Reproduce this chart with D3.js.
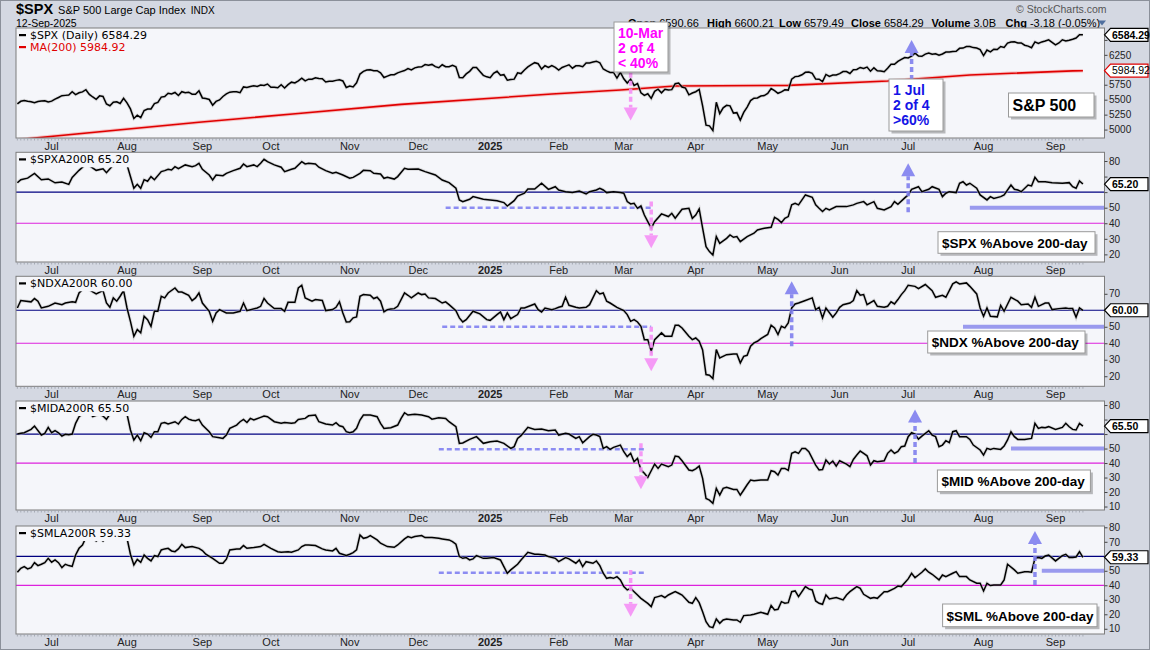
<!DOCTYPE html>
<html><head><meta charset="utf-8">
<script src="https://cdn.jsdelivr.net/npm/d3@7"></script>
<style>
html,body{margin:0;padding:0;background:#d4d8e2;}
svg{display:block;font-family:"Liberation Sans",Arial,sans-serif;}
</style></head><body>
<svg id="chart" width="1150" height="650"></svg>
<script>
// ---------------- DATA ----------------
const firstSession = "2024-06-14", lastSession = "2025-09-12";
const holidays = ["2024-06-19","2024-07-04","2024-09-02","2024-11-28","2024-12-25","2025-01-01","2025-01-09","2025-01-20","2025-02-17","2025-04-18","2025-05-26","2025-06-19","2025-07-04","2025-09-01"];
const monthNames = ["Jan","Feb","Mar","Apr","May","Jun","Jul","Aug","Sep","Oct","Nov","Dec"];

// $SPX daily closes, 14-Jun-2024 .. 31-Dec-2024
const spx2024 = [5431,5473,5487,5473,5465,5448,5469,5478,5483,5460,
5475,5509,5537,5567,5572,5577,5633,5585,5615,5631,5667,5589,5545,5505,5564,5555,5427,5399,5459,5464,5436,5522,
5446,5346,5186,5240,5199,5319,5344,5344,5434,5455,5543,5554,5608,5597,5621,5570,5634,5616,5625,5592,5592,5648,
5529,5520,5503,5408,5471,5496,5554,5596,5626,5633,5634,5618,5713,5703,5719,5732,5722,5745,5738,5762,
5709,5709,5700,5751,5696,5751,5793,5780,5815,5859,5815,5843,5841,5865,5853,5851,5797,5809,5808,5823,5833,5813,5705,
5729,5712,5782,5929,5973,5996,6001,5984,5985,5949,5871,5894,5917,5917,5949,5969,5987,6021,5999,6032,
6047,6050,6087,6075,6090,6053,6034,6084,6051,6051,6074,6051,5872,5867,5931,5974,6040,6037,5971,5907,5882];
// $SPX daily closes, 2-Jan-2025 .. 12-Sep-2025
const spx2025 = [5869,5942,5975,5909,5918,5827,5836,5843,5950,5937,5997,6049,6086,6119,6101,6012,6068,6039,6071,6041,
5994,6038,6061,6084,6026,6066,6068,6052,6115,6115,6129,6144,6118,6013,5983,5955,5956,5861,5955,
5850,5778,5843,5739,5770,5615,5572,5599,5522,5639,5675,5615,5675,5663,5668,5768,5777,5712,5693,5581,5612,
5633,5671,5397,5074,5062,4983,5457,5268,5363,5406,5397,5276,5283,5158,5288,5376,5485,5525,5529,5561,5569,
5604,5687,5650,5607,5631,5664,5660,5844,5886,5892,5917,5958,5964,5940,5845,5842,5802,5922,5889,5912,5912,
5936,5970,5971,5939,6000,6006,6039,6022,6045,5977,6033,5982,5981,5967,6025,6092,6092,6141,6173,6205,
6198,6227,6279,6230,6226,6263,6280,6260,6269,6244,6264,6297,6297,6306,6309,6359,6363,6389,6390,6371,6363,6339,
6238,6330,6299,6345,6340,6389,6374,6446,6466,6469,6450,6449,6411,6396,6370,6467,6439,6466,6481,6502,6460,
6416,6448,6502,6482,6495,6512,6532,6587,6584.29];

// MA(200)
const spxMA200 = [["2024-06-14",4828],["2024-06-24",4859],["2024-08-30",5123],["2024-10-11",5269],["2024-11-22",5421],
["2025-01-30",5594],["2025-02-28",5661],["2025-03-24",5728],["2025-05-09",5740],["2025-06-23",5813],["2025-07-11",5868],
["2025-07-28",5914],["2025-09-09",5981],["2025-09-12",5984.92]];

const spxa200r = [["2024-06-14",66],["2024-06-17",68],["2024-06-20",69],["2024-06-24",72],["2024-06-26",68],["2024-06-28",68.5],
["2024-07-02",66],["2024-07-05",66.5],["2024-07-09",65],["2024-07-10",69.5],["2024-07-12",74],["2024-07-16",78],["2024-07-17",77],
["2024-07-19",74],["2024-07-23",75],["2024-07-24",72.5],["2024-07-26",77.5],["2024-07-31",78],["2024-08-01",77.5],["2024-08-02",70],
["2024-08-05",62.5],["2024-08-06",65],["2024-08-07",62.5],["2024-08-08",68],["2024-08-09",67],["2024-08-12",70],["2024-08-13",68],
["2024-08-15",73.2],["2024-08-16",73.8],["2024-08-19",74.7],["2024-08-20",74.2],["2024-08-21",76.4],["2024-08-22",75.1],["2024-08-26",77.5],
["2024-08-28",76.4],["2024-08-29",77],["2024-08-30",78.5],["2024-09-03",74.7],["2024-09-05",71],["2024-09-06",67.8],["2024-09-09",71],
["2024-09-11",70.6],["2024-09-12",72.1],["2024-09-16",73.8],["2024-09-18",75.3],["2024-09-19",78.1],["2024-09-20",76.4],["2024-09-24",77.5],
["2024-09-25",76.4],["2024-09-26",78.5],["2024-09-27",81.1],["2024-09-30",79.6],["2024-10-02",77.5],["2024-10-04",76],["2024-10-07",73.2],
["2024-10-09",74.7],["2024-10-10",75.3],["2024-10-14",79.6],["2024-10-15",78.1],["2024-10-16",78.5],["2024-10-18",78.1],["2024-10-21",76],
["2024-10-23",73.8],["2024-10-25",72.1],["2024-10-28",72.7],["2024-10-30",71],["2024-11-01",68.9],["2024-11-04",69.5],["2024-11-06",72.1],
["2024-11-07",74],["2024-11-11",73.8],["2024-11-12",72.1],["2024-11-14",71.7],["2024-11-15",68.9],["2024-11-18",69.5],["2024-11-20",68.4],
["2024-11-21",70],["2024-11-25",75.3],["2024-11-26",74.7],["2024-12-02",74.9],["2024-12-04",73.2],["2024-12-09",71],["2024-12-11",67.8],
["2024-12-13",66.1],["2024-12-17",62.5],["2024-12-18",55],["2024-12-19",53.9],["2024-12-23",55.4],["2024-12-24",57.1],["2024-12-30",55.4],
["2025-01-02",55],["2025-01-06",54.5],["2025-01-08",53.3],["2025-01-10",51.1],["2025-01-14",54.5],["2025-01-15",57.5],["2025-01-17",59.3],
["2025-01-21",62],["2025-01-23",62],["2025-01-27",65.7],["2025-01-29",61.8],["2025-01-31",63.5],["2025-02-03",61.4],["2025-02-05",60.3],
["2025-02-07",59.7],["2025-02-11",60.7],["2025-02-13",58.8],["2025-02-14",60.3],["2025-02-19",61.4],["2025-02-20",62.5],["2025-02-21",61.4],
["2025-02-24",59.7],["2025-02-26",60.3],["2025-02-28",59.7],["2025-03-03",59.3],["2025-03-04",53.9],["2025-03-05",52.4],["2025-03-06",52.8],
["2025-03-07",49.6],["2025-03-10",51.1],["2025-03-11",45.3],["2025-03-12",41],["2025-03-13",36.8],["2025-03-14",41],["2025-03-18",46],
["2025-03-20",44.3],["2025-03-21",46.4],["2025-03-24",43.2],["2025-03-26",49],["2025-03-28",49.6],["2025-03-31",43.2],["2025-04-01",45.3],
["2025-04-02",49.2],["2025-04-03",36.8],["2025-04-04",25],["2025-04-07",21.8],["2025-04-08",19.6],["2025-04-09",31.4],["2025-04-10",27.1],
["2025-04-14",30.3],["2025-04-15",32.5],["2025-04-16",31],["2025-04-17",31.4],["2025-04-21",28.2],["2025-04-23",31.4],["2025-04-25",33.6],
["2025-04-28",35.7],["2025-04-30",36.8],["2025-05-02",37.4],["2025-05-05",43.8],["2025-05-06",42.5],["2025-05-07",40.4],["2025-05-08",43.2],
["2025-05-09",44.3],["2025-05-12",51.8],["2025-05-13",52.8],["2025-05-14",51.8],["2025-05-15",55],["2025-05-16",58.2],["2025-05-20",56.7],
["2025-05-21",51.8],["2025-05-22",49.6],["2025-05-23",47.5],["2025-05-27",49.6],["2025-05-28",48.5],["2025-05-30",50.7],["2025-06-04",50.7],
["2025-06-06",51.8],["2025-06-09",52.8],["2025-06-11",53.9],["2025-06-12",51.8],["2025-06-16",53.9],["2025-06-17",49.6],["2025-06-20",48.5],
["2025-06-24",50.7],["2025-06-25",53.9],["2025-06-26",52.2],["2025-06-30",56.3],["2025-07-01",58.2],["2025-07-02",61.8],["2025-07-07",63.5],
["2025-07-08",60.3],["2025-07-10",61.8],["2025-07-11",63.5],["2025-07-15",61.8],["2025-07-16",57.1],["2025-07-17",59.3],["2025-07-18",60.3],
["2025-07-22",59.7],["2025-07-23",65.7],["2025-07-24",66.7],["2025-07-25",64.6],["2025-07-28",65.7],["2025-07-30",62.5],["2025-07-31",58.2],
["2025-08-04",55],["2025-08-05",57.1],["2025-08-06",56],["2025-08-08",57.1],["2025-08-11",58.2],["2025-08-13",64.6],["2025-08-14",61.8],
["2025-08-15",61.4],["2025-08-18",60.3],["2025-08-20",64.6],["2025-08-21",64],["2025-08-22",69.5],["2025-08-25",66.7],["2025-08-27",66.7],
["2025-08-29",66.1],["2025-09-04",65.7],["2025-09-08",66.1],["2025-09-09",63.5],["2025-09-10",62.5],["2025-09-11",67.2],["2025-09-12",65.2]];

const ndxa200r = [["2024-06-14",61.4],["2024-06-17",65.9],["2024-06-21",65.1],["2024-06-24",67.1],["2024-06-25",65.5],["2024-06-26",61.4],
["2024-06-28",62.4],["2024-07-02",64.4],["2024-07-05",63.4],["2024-07-08",64.4],["2024-07-10",65.1],["2024-07-11",64.8],["2024-07-12",70.5],
["2024-07-15",72.5],["2024-07-16",74.5],["2024-07-17",72.5],["2024-07-18",71.1],["2024-07-19",69.9],["2024-07-23",71.9],["2024-07-24",64.4],
["2024-07-25",61.8],["2024-07-26",67.5],["2024-07-29",65.5],["2024-07-30",68.5],["2024-07-31",71.9],["2024-08-01",61.4],["2024-08-02",53.3],
["2024-08-05",44.2],["2024-08-06",48.3],["2024-08-07",46.3],["2024-08-08",56.4],["2024-08-09",54.3],["2024-08-12",50.3],["2024-08-13",59.4],
["2024-08-14",59.4],["2024-08-15",68.5],["2024-08-16",67.5],["2024-08-19",70.5],["2024-08-21",73.5],["2024-08-22",71.1],["2024-08-23",71.1],
["2024-08-27",69.1],["2024-08-28",65.9],["2024-08-29",67.5],["2024-08-30",70.5],["2024-09-03",64.4],["2024-09-05",59.4],["2024-09-06",53.3],
["2024-09-09",58.4],["2024-09-10",60.4],["2024-09-12",58.4],["2024-09-16",58.4],["2024-09-18",59.4],["2024-09-19",64.4],["2024-09-20",59.8],
["2024-09-25",61.4],["2024-09-26",62.4],["2024-09-27",67.1],["2024-09-30",64.4],["2024-10-02",61],["2024-10-04",61],["2024-10-07",59.4],
["2024-10-08",64.8],["2024-10-10",64.8],["2024-10-11",73.5],["2024-10-14",75.2],["2024-10-15",67.5],["2024-10-17",65.5],["2024-10-18",66.5],
["2024-10-22",65.9],["2024-10-23",59.8],["2024-10-25",60.4],["2024-10-28",61.8],["2024-10-29",65.1],["2024-10-30",58.4],["2024-10-31",52.9],
["2024-11-01",53],["2024-11-04",55.4],["2024-11-05",56],["2024-11-06",68.5],["2024-11-07",69.5],["2024-11-11",69.1],["2024-11-12",67.1],
["2024-11-13",67.9],["2024-11-14",65.5],["2024-11-15",59],["2024-11-18",60.4],["2024-11-19",60.8],["2024-11-20",61],["2024-11-21",62.4],
["2024-11-25",70.5],["2024-11-26",69.1],["2024-11-27",67.5],["2024-12-02",70.5],["2024-12-03",69.5],["2024-12-04",69.9],["2024-12-05",67.5],
["2024-12-09",67.1],["2024-12-11",64.4],["2024-12-12",65.1],["2024-12-13",63.4],["2024-12-17",59.8],["2024-12-18",55.4],["2024-12-19",52.9],
["2024-12-20",54.3],["2024-12-24",59.4],["2024-12-27",57.8],["2024-12-31",54.3],["2025-01-02",53.9],["2025-01-06",57.4],["2025-01-07",59],
["2025-01-08",54.3],["2025-01-10",58.4],["2025-01-13",54.9],["2025-01-15",57.4],["2025-01-16",61.4],["2025-01-17",61.4],["2025-01-23",63.8],
["2025-01-24",60.4],["2025-01-27",59],["2025-01-28",61.4],["2025-01-30",60.4],["2025-01-31",61],["2025-02-03",61.8],["2025-02-04",62.4],
["2025-02-05",67.9],["2025-02-06",63],["2025-02-10",61.8],["2025-02-11",61.4],["2025-02-13",61.8],["2025-02-14",63.4],["2025-02-19",71.9],
["2025-02-20",69.9],["2025-02-21",70.5],["2025-02-24",65.5],["2025-02-25",64.4],["2025-02-27",61.8],["2025-03-03",59.8],["2025-03-04",57.4],
["2025-03-05",53.3],["2025-03-06",54.3],["2025-03-07",52.9],["2025-03-10",50.3],["2025-03-11",42.2],["2025-03-12",42.2],["2025-03-13",35.2],
["2025-03-14",42.2],["2025-03-18",46.3],["2025-03-19",44.3],["2025-03-20",44.2],["2025-03-21",44.2],["2025-03-24",50.9],["2025-03-25",50.9],
["2025-03-26",49.3],["2025-03-28",44.2],["2025-03-31",42.2],["2025-04-01",43.2],["2025-04-02",41.2],["2025-04-03",36],["2025-04-04",21],
["2025-04-07",20.6],["2025-04-08",18.6],["2025-04-09",36.2],["2025-04-10",31.1],["2025-04-14",33.1],["2025-04-16",33.5],["2025-04-17",33.5],
["2025-04-21",28.1],["2025-04-22",32.1],["2025-04-23",32.7],["2025-04-24",38.2],["2025-04-25",40.2],["2025-04-28",41.2],["2025-04-29",42.8],
["2025-05-01",45.3],["2025-05-02",50.9],["2025-05-05",49.3],["2025-05-06",45.3],["2025-05-07",50.3],["2025-05-08",49.3],["2025-05-09",52.3],
["2025-05-12",61.4],["2025-05-13",63.8],["2025-05-14",64.4],["2025-05-16",65.9],["2025-05-20",67.5],["2025-05-21",60.4],["2025-05-22",61.8],
["2025-05-23",55.4],["2025-05-27",61.4],["2025-05-29",55.8],["2025-05-30",58.4],["2025-06-02",61.8],["2025-06-03",63.4],["2025-06-05",64.4],
["2025-06-06",65.9],["2025-06-09",71.9],["2025-06-10",69.1],["2025-06-11",69.5],["2025-06-12",63.4],["2025-06-16",65.9],["2025-06-17",62.4],
["2025-06-20",61.8],["2025-06-23",62.4],["2025-06-24",65.1],["2025-06-25",63.8],["2025-06-26",66.5],["2025-06-27",69.5],["2025-06-30",71.9],
["2025-07-01",75.2],["2025-07-03",74.5],["2025-07-07",73.1],["2025-07-09",75.6],["2025-07-11",71.9],["2025-07-14",67.9],["2025-07-16",69.1],
["2025-07-17",67.9],["2025-07-21",76],["2025-07-22",77.2],["2025-07-23",76],["2025-07-25",76.6],["2025-07-28",74.5],["2025-07-30",69.9],
["2025-07-31",61.4],["2025-08-01",56.4],["2025-08-04",61.4],["2025-08-05",56.4],["2025-08-07",56],["2025-08-08",63],["2025-08-11",59.4],
["2025-08-13",67.9],["2025-08-15",65.5],["2025-08-18",63.4],["2025-08-20",63.8],["2025-08-21",61.8],["2025-08-22",67.9],["2025-08-25",62.4],
["2025-08-27",64.4],["2025-08-28",64.4],["2025-08-29",60.4],["2025-09-03",61],["2025-09-05",61.4],["2025-09-08",61],["2025-09-09",61],
["2025-09-10",55.8],["2025-09-11",61.4],["2025-09-12",60]];

const mida200r = [["2024-06-14",60],["2024-06-17",60.5],["2024-06-18",60.9],["2024-06-21",63.2],["2024-06-24",65.5],["2024-06-26",59.3],
["2024-06-27",60.5],["2024-06-28",64.6],["2024-07-01",60.9],["2024-07-02",62.3],["2024-07-03",60.9],["2024-07-05",58.6],["2024-07-08",59.8],
["2024-07-09",59.5],["2024-07-10",60],["2024-07-11",67.4],["2024-07-12",72],["2024-07-15",73.8],["2024-07-16",76.5],["2024-07-17",75],
["2024-07-18",72],["2024-07-22",73.8],["2024-07-23",72.4],["2024-07-24",70.1],["2024-07-25",73.8],["2024-07-26",74.7],["2024-07-30",76.1],
["2024-08-01",73.8],["2024-08-02",62.8],["2024-08-05",55.9],["2024-08-06",59.3],["2024-08-07",55.4],["2024-08-08",60.9],["2024-08-09",60],
["2024-08-12",57.7],["2024-08-13",61.6],["2024-08-14",61.6],["2024-08-15",67.4],["2024-08-16",68],["2024-08-19",66.9],["2024-08-21",68.5],
["2024-08-22",66.9],["2024-08-23",70.1],["2024-08-26",72],["2024-08-27",70.3],["2024-08-28",69.5],["2024-08-29",69.2],["2024-08-30",70.1],
["2024-09-03",66.2],["2024-09-05",61.6],["2024-09-06",58.2],["2024-09-10",57.5],["2024-09-11",57],["2024-09-12",59.3],["2024-09-13",63.9],
["2024-09-17",66.2],["2024-09-18",68.5],["2024-09-19",70.1],["2024-09-20",68],["2024-09-23",70.8],["2024-09-24",69.7],["2024-09-26",71.5],
["2024-09-27",72.4],["2024-09-30",72],["2024-10-02",68.5],["2024-10-04",67.4],["2024-10-07",68],["2024-10-09",67.4],["2024-10-10",67.8],
["2024-10-11",70.1],["2024-10-15",70.8],["2024-10-16",72.6],["2024-10-18",73.1],["2024-10-21",68.5],["2024-10-23",66.9],["2024-10-25",66.2],
["2024-10-28",67.8],["2024-10-29",65.7],["2024-10-30",65.1],["2024-10-31",61.6],["2024-11-01",60.9],["2024-11-04",61.6],["2024-11-05",64],
["2024-11-06",69.7],["2024-11-07",73.1],["2024-11-11",73.1],["2024-11-13",72],["2024-11-14",67.4],["2024-11-15",63.9],["2024-11-19",64.4],
["2024-11-21",66.2],["2024-11-22",70.8],["2024-11-25",74.7],["2024-11-26",73.1],["2024-11-29",73.6],["2024-12-03",73.1],["2024-12-05",72],
["2024-12-06",70.3],["2024-12-10",71.3],["2024-12-12",70.8],["2024-12-13",68.5],["2024-12-17",65.1],["2024-12-18",53.6],["2024-12-19",53.8],
["2024-12-23",56.3],["2024-12-26",58.2],["2024-12-30",53.6],["2025-01-02",54.7],["2025-01-06",55.2],["2025-01-08",53.6],["2025-01-13",50.1],
["2025-01-14",51.3],["2025-01-15",57],["2025-01-16",58.9],["2025-01-21",64.6],["2025-01-23",63.2],["2025-01-27",63.4],["2025-01-29",62.3],
["2025-01-31",62.8],["2025-02-03",59.3],["2025-02-05",60.5],["2025-02-06",60],["2025-02-10",57],["2025-02-11",58.2],["2025-02-12",54],
["2025-02-14",58.2],["2025-02-18",59.8],["2025-02-19",59.3],["2025-02-20",58.2],["2025-02-21",50.1],["2025-02-24",51.3],["2025-02-25",49.4],
["2025-02-26",50.8],["2025-02-28",52.4],["2025-03-03",47.8],["2025-03-04",44.4],["2025-03-05",46.7],["2025-03-06",40.9],["2025-03-07",43.2],
["2025-03-10",35.2],["2025-03-11",32.9],["2025-03-12",30.1],["2025-03-13",34.7],["2025-03-14",39.3],["2025-03-17",36.3],["2025-03-18",39.3],
["2025-03-20",37.5],["2025-03-21",38.6],["2025-03-24",44.8],["2025-03-25",44.4],["2025-03-26",41.6],["2025-03-28",35.2],["2025-03-31",34.7],
["2025-04-01",36],["2025-04-02",37.9],["2025-04-03",29.4],["2025-04-04",15.5],["2025-04-07",14.4],["2025-04-08",12.2],["2025-04-09",22.5],
["2025-04-10",17.9],["2025-04-11",22.5],["2025-04-14",23.2],["2025-04-16",21.8],["2025-04-17",21.8],["2025-04-21",17.9],["2025-04-22",21.4],
["2025-04-23",25],["2025-04-24",28.3],["2025-04-25",27.8],["2025-04-29",28.3],["2025-05-01",28.3],["2025-05-02",34.7],["2025-05-05",34],
["2025-05-06",31.7],["2025-05-07",36.3],["2025-05-08",36.3],["2025-05-09",35],["2025-05-12",46.7],["2025-05-13",47.8],["2025-05-14",46.7],
["2025-05-15",50.1],["2025-05-16",50],["2025-05-19",47.8],["2025-05-21",38.6],["2025-05-22",35.2],["2025-05-23",35.5],["2025-05-27",42.1],
["2025-05-28",39.3],["2025-05-29",41.4],["2025-05-30",37.9],["2025-06-02",41.6],["2025-06-04",39.3],["2025-06-05",37.5],["2025-06-06",42.5],
["2025-06-09",45.5],["2025-06-10",48.3],["2025-06-11",46.7],["2025-06-12",45],["2025-06-13",38.6],["2025-06-16",41.6],["2025-06-17",40.9],
["2025-06-20",41.6],["2025-06-23",46.7],["2025-06-24",49],["2025-06-25",46.7],["2025-06-26",48],["2025-06-27",51.3],["2025-06-30",51.7],
["2025-07-01",58.2],["2025-07-02",60.9],["2025-07-03",60],["2025-07-07",56.5],["2025-07-08",58.6],["2025-07-10",62.3],["2025-07-11",59.3],
["2025-07-14",58.2],["2025-07-15",51.3],["2025-07-16",52.4],["2025-07-17",55.4],["2025-07-18",54],["2025-07-21",61.6],["2025-07-22",62.3],
["2025-07-23",58.2],["2025-07-25",58.2],["2025-07-28",56.3],["2025-07-29",52.4],["2025-07-31",49],["2025-08-01",45.5],["2025-08-04",50.1],
["2025-08-05",49.4],["2025-08-06",50.1],["2025-08-08",49.4],["2025-08-11",51.7],["2025-08-12",55.9],["2025-08-13",61.6],["2025-08-14",58.2],
["2025-08-15",56.3],["2025-08-19",56.3],["2025-08-21",57],["2025-08-22",67.4],["2025-08-25",63.9],["2025-08-26",64.6],["2025-08-27",64.4],
["2025-08-28",65.1],["2025-09-02",63.2],["2025-09-04",64.6],["2025-09-05",67.4],["2025-09-08",65],["2025-09-09",63.2],["2025-09-10",62.8],
["2025-09-11",67.4],["2025-09-12",65.5]];

const smla200r = [["2024-06-14",49],["2024-06-17",51.7],["2024-06-18",52.9],["2024-06-20",51.3],["2024-06-21",52.2],["2024-06-24",55.6],
["2024-06-25",53.6],["2024-06-26",54.5],["2024-06-27",55.6],["2024-06-28",58.6],["2024-07-01",55.9],["2024-07-02",57.5],["2024-07-03",55.6],
["2024-07-05",52.2],["2024-07-08",54.5],["2024-07-09",53.6],["2024-07-10",53],["2024-07-11",60.9],["2024-07-12",65.5],["2024-07-15",67.8],
["2024-07-16",73],["2024-07-17",72],["2024-07-18",72.9],["2024-07-19",70.6],["2024-07-22",72.4],["2024-07-23",70.6],["2024-07-24",72.9],
["2024-07-25",72.4],["2024-07-29",75],["2024-07-31",76],["2024-08-01",72.4],["2024-08-02",61.4],["2024-08-05",54],["2024-08-06",57.9],
["2024-08-07",55.9],["2024-08-08",60.9],["2024-08-09",58.6],["2024-08-12",56.8],["2024-08-13",60.5],["2024-08-14",59.8],["2024-08-15",64.4],
["2024-08-16",65.1],["2024-08-19",65.5],["2024-08-20",63.7],["2024-08-21",63.2],["2024-08-22",65.1],["2024-08-23",68.3],["2024-08-26",66],
["2024-08-28",66.7],["2024-08-30",65.5],["2024-09-03",64],["2024-09-04",61.4],["2024-09-06",58.6],["2024-09-10",55.2],["2024-09-11",55.2],
["2024-09-12",58],["2024-09-13",64.4],["2024-09-17",65.1],["2024-09-18",65.1],["2024-09-19",67.4],["2024-09-20",65.5],["2024-09-24",66],
["2024-09-26",66.7],["2024-09-27",68.3],["2024-10-01",65.5],["2024-10-03",63.2],["2024-10-04",62.8],["2024-10-08",63.2],["2024-10-09",62.8],
["2024-10-11",64.4],["2024-10-14",66.7],["2024-10-15",67.8],["2024-10-16",67.8],["2024-10-18",67.4],["2024-10-22",65.1],["2024-10-23",64.4],
["2024-10-25",63.7],["2024-10-28",65.5],["2024-10-29",62.1],["2024-10-31",60.5],["2024-11-01",61.4],["2024-11-04",62.5],["2024-11-05",64.4],
["2024-11-06",74.7],["2024-11-07",72.4],["2024-11-08",72.9],["2024-11-11",74.3],["2024-11-13",71.3],["2024-11-14",69],["2024-11-18",66.7],
["2024-11-20",66.2],["2024-11-21",67.8],["2024-11-25",72],["2024-11-26",73.6],["2024-11-27",72.9],["2024-11-29",73.6],["2024-12-03",74.3],
["2024-12-04",72.9],["2024-12-06",72.9],["2024-12-10",72.4],["2024-12-11",72],["2024-12-13",71.3],["2024-12-16",70.1],["2024-12-17",68.3],
["2024-12-18",59.8],["2024-12-19",58.6],["2024-12-20",59.1],["2024-12-23",57.5],["2024-12-24",58.2],["2024-12-26",60.5],["2024-12-30",58.6],
["2024-12-31",58.6],["2025-01-03",59.1],["2025-01-07",57.5],["2025-01-08",52.9],["2025-01-10",48.3],["2025-01-13",50.6],["2025-01-15",54.5],
["2025-01-16",57.5],["2025-01-21",62.8],["2025-01-23",61.4],["2025-01-24",61.4],["2025-01-28",60.9],["2025-01-29",59.8],["2025-01-31",58.6],
["2025-02-03",56.3],["2025-02-05",59.1],["2025-02-06",58.2],["2025-02-10",55.2],["2025-02-11",57.5],["2025-02-12",52.9],["2025-02-13",56.3],
["2025-02-18",55.2],["2025-02-19",56.8],["2025-02-20",53.6],["2025-02-21",48.3],["2025-02-24",44.8],["2025-02-25",45.3],["2025-02-26",44.8],
["2025-02-27",46],["2025-02-28",43.7],["2025-03-03",39.1],["2025-03-04",36.8],["2025-03-05",37.9],["2025-03-06",35.6],["2025-03-07",33.3],
["2025-03-10",31],["2025-03-11",29.2],["2025-03-12",27.5],["2025-03-13",25.3],["2025-03-14",31.5],["2025-03-17",32.2],["2025-03-18",32.9],
["2025-03-19",31.5],["2025-03-20",33.3],["2025-03-24",35.6],["2025-03-25",34.5],["2025-03-26",33.3],["2025-03-28",28.3],["2025-03-31",27.6],
["2025-04-01",31.5],["2025-04-02",28],["2025-04-03",21.8],["2025-04-04",14.9],["2025-04-07",11.5],["2025-04-08",10.8],["2025-04-09",16.8],
["2025-04-10",13.8],["2025-04-11",16.1],["2025-04-14",16.8],["2025-04-16",16.1],["2025-04-17",16.1],["2025-04-21",14.5],["2025-04-22",19.1],
["2025-04-24",19.5],["2025-04-25",20],["2025-04-29",21.4],["2025-05-01",20],["2025-05-02",26],["2025-05-05",23],["2025-05-06",23.4],
["2025-05-07",28.7],["2025-05-08",27.6],["2025-05-09",28],["2025-05-12",35.6],["2025-05-13",36.1],["2025-05-14",32.2],["2025-05-16",39.1],
["2025-05-19",37.5],["2025-05-20",36.8],["2025-05-21",29.2],["2025-05-22",27.6],["2025-05-23",26.9],["2025-05-27",33.3],["2025-05-28",30.6],
["2025-05-30",31.5],["2025-06-03",29.9],["2025-06-04",33.3],["2025-06-05",35.6],["2025-06-09",39.1],["2025-06-10",37.9],["2025-06-11",33.8],
["2025-06-13",31],["2025-06-16",31.5],["2025-06-17",31],["2025-06-20",35.6],["2025-06-23",35.6],["2025-06-25",37.9],["2025-06-26",39.5],
["2025-06-27",39.1],["2025-07-01",44.4],["2025-07-02",48.3],["2025-07-03",45.3],["2025-07-07",47.1],["2025-07-08",49],["2025-07-09",51.3],
["2025-07-10",49],["2025-07-11",47.6],["2025-07-15",43.7],["2025-07-16",47.1],["2025-07-17",46],["2025-07-21",48.3],["2025-07-22",49.4],
["2025-07-23",46],["2025-07-25",46],["2025-07-28",43.7],["2025-07-30",41.4],["2025-07-31",41.4],["2025-08-01",36.1],["2025-08-04",41.4],
["2025-08-05",39.8],["2025-08-06",40.2],["2025-08-08",40.2],["2025-08-11",43.7],["2025-08-12",54.5],["2025-08-14",50.6],["2025-08-15",48.3],
["2025-08-19",49.4],["2025-08-20",49.4],["2025-08-21",49],["2025-08-22",58.6],["2025-08-25",59.1],["2025-08-26",58.6],["2025-08-27",60.2],
["2025-08-28",60.9],["2025-09-02",56.8],["2025-09-04",60.5],["2025-09-05",61.4],["2025-09-08",59.1],["2025-09-09",59.1],["2025-09-10",59.5],
["2025-09-11",63.2],["2025-09-12",59.33]];

// axis tick labels per panel
const ticksSPX = [5000,5250,5500,5750,6000,6250,6500];
const ticksSPXA = [20,30,40,50,60,70,80];
const ticksNDXA = [20,30,40,50,60,70];
const ticksMIDA = [10,20,30,40,50,60,70,80];
const ticksSMLA = [10,20,30,40,50,60,70,80];

// quote header
const titleParts = [["$SPX",14.5,"bold"],["S&P 500 Large Cap Index",11,"normal"],["INDX",10,"normal"]];
const quote = [["Open","6590.66"],["High","6600.21"],["Low","6579.49"],["Close","6584.29"],["Volume","3.0B"],["Chg","-3.18 (-0.05%)"]];

// annotations (dates / values)
const arrows = [
 {panel:0,date:"2025-03-05",from:5950,to:5150,kind:"down"},
 {panel:0,date:"2025-07-02",from:5830,to:6500,kind:"up"},
 {panel:1,date:"2025-03-13",from:54,to:24,kind:"down"},
 {panel:1,date:"2025-07-01",from:47,to:78.5,kind:"up"},
 {panel:2,date:"2025-03-13",from:50,to:23,kind:"down"},
 {panel:2,date:"2025-05-12",from:38.2,to:77.6,kind:"up"},
 {panel:3,date:"2025-03-10",from:53.6,to:21.9,kind:"down"},
 {panel:3,date:"2025-07-03",from:40,to:77,kind:"up"},
 {panel:4,date:"2025-03-05",from:50.6,to:18.3,kind:"down"},
 {panel:4,date:"2025-08-22",from:40.2,to:77.4,kind:"up"}];
const levelMarks = [
 {panel:1,start:"2024-12-12",end:"2025-03-13",value:50,dashed:true},
 {panel:1,start:"2025-07-28",end:null,value:50,dashed:false},
 {panel:2,start:"2024-12-11",end:"2025-03-13",value:50,dashed:true},
 {panel:2,start:"2025-07-24",end:null,value:50,dashed:false},
 {panel:3,start:"2024-12-10",end:"2025-03-11",value:49.5,dashed:true},
 {panel:3,start:"2025-08-13",end:null,value:50,dashed:false},
 {panel:4,start:"2024-12-10",end:"2025-03-11",value:48.6,dashed:true},
 {panel:4,start:"2025-08-26",end:null,value:50,dashed:false}];

// ---------------- LAYOUT ----------------
const X0 = 16, X1 = 1104.5;
const panelLayout = [
 {top:28,   bottom:138,   domain:[4859,6699]},
 {top:152.3,bottom:262,   domain:[15.1,85.6]},
 {top:276.3,bottom:386.3, domain:[13.9,80.6]},
 {top:401,  bottom:510,   domain:[7.6,82.8]},
 {top:526,  bottom:634,   domain:[6.4,80.9]}];
const panelSeries = [
 {ticks:ticksSPX, legend:[["$SPX (Daily) 6584.29","#000"],["MA(200) 5984.92","#e00000"]],
  tags:[[6584.29,"6584.29","#000",true],[5984.92,"5984.92","#e00000",false]]},
 {ticks:ticksSPXA, data:spxa200r, legend:[["$SPXA200R 65.20","#000"]], tags:[[65.2,"65.20","#000",true]]},
 {ticks:ticksNDXA, data:ndxa200r, legend:[["$NDXA200R 60.00","#000"]], tags:[[60,"60.00","#000",true]]},
 {ticks:ticksMIDA, data:mida200r, legend:[["$MIDA200R 65.50","#000"]], tags:[[65.5,"65.50","#000",true]]},
 {ticks:ticksSMLA, data:smla200r, legend:[["$SMLA200R 59.33","#000"]], tags:[[59.33,"59.33","#000",true]]}];
const noteBoxes = [
 {x:614,y:22,w:54,h:50,lines:["10-Mar","2 of 4","< 40%"],color:"#ff00ff",size:14,base:15.5},
 {x:889,y:79,w:54,h:52,lines:["1 Jul","2 of 4",">60%"],color:"#1414e6",size:14,base:15.5},
 {x:1008.5,y:93,w:85.5,h:24,lines:["S&P 500"],color:"#000",size:16,base:18},
 {x:938,y:231.7,w:157,h:21.6,lines:["$SPX %Above 200-day"],color:"#000",size:13.5,base:16},
 {x:927.7,y:331,w:157.3,h:22,lines:["$NDX %Above 200-day"],color:"#000",size:13.5,base:16},
 {x:937.4,y:470,w:153,h:21.7,lines:["$MID %Above 200-day"],color:"#000",size:13.5,base:16},
 {x:942.6,y:604,w:154.4,h:22.7,lines:["$SML %Above 200-day"],color:"#000",size:13.5,base:16.5}];

// ---------------- BUILD ----------------
const parse = d3.utcParse("%Y-%m-%d"), fmtD = d3.utcFormat("%Y-%m-%d");
const sessions = [];
for (let d = parse(firstSession); d <= parse(lastSession); d = d3.utcDay.offset(d, 1)) {
  const wd = d.getUTCDay(), s = fmtD(d);
  if (wd === 0 || wd === 6 || holidays.includes(s)) continue;
  sessions.push(s);
}
const si = s => Math.min(sessions.length - 1, d3.bisectLeft(sessions, s));
const spxDaily = spx2024.concat(spx2025).map((v, i) => [sessions[i], v]);

const x = d3.scaleLinear().domain([-0.4, sessions.length - 1 + 6.3]).range([X0, X1]);
const xd = s => x(si(s));

const svg = d3.select("#chart");
const FONT = '"Liberation Sans",Arial,sans-serif';
svg.append("rect").attr("x",0.5).attr("y",0.5).attr("width",1149).attr("height",649)
  .attr("fill","#d4d8e2").attr("stroke","#8b909a");

// header
const hdr = svg.append("g").attr("font-family",FONT);
let tx = 16;
titleParts.forEach(tp => {
  const t = hdr.append("text").attr("x",tx).attr("y",14).attr("font-size",tp[1]).attr("font-weight",tp[2]).text(tp[0]);
  tx += t.node().getComputedTextLength() + 5;
});
hdr.append("text").attr("x",16).attr("y",26.5).attr("font-size",10.5).text("12-Sep-2025");
hdr.append("text").attr("x",1016).attr("y",12.5).attr("font-size",10.5).attr("fill","#555").text("\u00A9 StockCharts.com");
const qx = [628,707,779,851,931.5,1005.5];
quote.forEach((q,i)=>{
  const t = hdr.append("text").attr("x",qx[i]).attr("y",26.5).attr("font-size",11);
  t.append("tspan").attr("font-weight","bold").text(q[0]);
  t.append("tspan").attr("dx",3).text(q[1]);
});
hdr.append("path").attr("d","M1098,20.5 L1106,20.5 L1102,25.5 Z").attr("fill","#4f6f9f");

function arrowMark(g, xp, y1, y2, kind) {
  const col = kind === "down" ? "#f590f5" : "#8080ee";
  const dir = y2 > y1 ? 1 : -1;
  const base = y2 - dir * 13;
  g.append("line").attr("x1",xp).attr("x2",xp).attr("y1",y1).attr("y2",base)
    .attr("stroke",col).attr("stroke-width",3.5).attr("stroke-dasharray","5,3").attr("opacity",0.9);
  g.append("path").attr("d",`M${xp-7},${base} L${xp+7},${base} L${xp},${y2} Z`).attr("fill",col).attr("opacity",0.9);
}

panelLayout.forEach((p, i) => {
  const cfg = panelSeries[i];
  const y = d3.scaleLinear().domain(p.domain).range([p.bottom, p.top]);
  const g = svg.append("g");
  g.append("rect").attr("x",X0).attr("y",p.top).attr("width",X1-X0).attr("height",p.bottom-p.top).attr("fill","#f5f6fa");
  const clipId = "clip" + i;
  svg.append("defs").append("clipPath").attr("id",clipId).append("rect")
    .attr("x",X0).attr("y",p.top).attr("width",X1-X0).attr("height",p.bottom-p.top);
  const inner = g.append("g").attr("clip-path",`url(#${clipId})`);

  const line = d3.line().x(d => xd(d[0])).y(d => y(d[1]));
  if (i === 0) {
    inner.append("path").datum(spxMA200).attr("d",line).attr("fill","none").attr("stroke","#f4a0a0").attr("stroke-width",3.5).attr("opacity",0.6);
    inner.append("path").datum(spxMA200).attr("d",line).attr("fill","none").attr("stroke","#e00000").attr("stroke-width",1.6);
    inner.append("path").datum(spxDaily).attr("d",line).attr("fill","none").attr("stroke","#bbb").attr("stroke-width",3.2).attr("opacity",0.5);
    inner.append("path").datum(spxDaily).attr("d",line).attr("fill","none").attr("stroke","#000").attr("stroke-width",1.5);
  } else {
    inner.append("line").attr("x1",X0).attr("x2",X1).attr("y1",y(60)).attr("y2",y(60)).attr("stroke","#000080").attr("stroke-width",1.2);
    inner.append("line").attr("x1",X0).attr("x2",X1).attr("y1",y(40)).attr("y2",y(40)).attr("stroke","#dd22dd").attr("stroke-width",1.2);
    levelMarks.filter(m => m.panel === i).forEach(m => {
      const xa = xd(m.start), xb = m.end ? xd(m.end) : X1;
      inner.append("line").attr("x1",xa).attr("x2",xb).attr("y1",y(m.value)).attr("y2",y(m.value))
        .attr("stroke", m.dashed ? "#8c8cf2" : "#9a9aee")
        .attr("stroke-width", m.dashed ? 2.5 : 4)
        .attr("stroke-dasharray", m.dashed ? "5,3" : null);
    });
    inner.append("path").datum(cfg.data).attr("d",line).attr("fill","none").attr("stroke","#bbb").attr("stroke-width",3.2).attr("opacity",0.5);
    inner.append("path").datum(cfg.data).attr("d",line).attr("fill","none").attr("stroke","#000").attr("stroke-width",1.5);
  }
  arrows.filter(a => a.panel === i).forEach(a => arrowMark(g, xd(a.date), y(a.from), y(a.to), a.kind));

  // legend
  const lg = g.append("g").attr("font-family",'"DejaVu Sans",Verdana,sans-serif').attr("font-size",11);
  const bgR = lg.append("rect").attr("fill","#f5f6fa");
  cfg.legend.forEach((l, j) => {
    const yy = p.top + 7 + j * 12;
    lg.append("rect").attr("x",19).attr("y",yy-1).attr("width",7).attr("height",2.2).attr("fill",l[1]);
    lg.append("text").attr("x",30).attr("y",yy+4).attr("fill",l[1]).text(l[0]);
  });
  const bb = lg.node().getBBox();
  bgR.attr("x",bb.x-1).attr("y",bb.y-1).attr("width",bb.width+2).attr("height",bb.height+2);

  // border
  g.append("rect").attr("x",X0).attr("y",p.top).attr("width",X1-X0).attr("height",p.bottom-p.top)
    .attr("fill","none").attr("stroke","#7d7d7d");

  // right axis (labels that sit under a value tag are hidden, as in the original)
  const tagYs = cfg.tags.map(t => y(t[0]));
  const shown = cfg.ticks.filter(v => tagYs.every(ty => Math.abs(y(v) - ty) > 10.5));
  const ag = g.append("g").attr("transform",`translate(${X1},0)`)
    .call(d3.axisRight(y).tickValues(cfg.ticks).tickSize(3).tickPadding(1.5)
      .tickFormat(v => shown.includes(v) ? d3.format("d")(v) : ""));
  ag.select(".domain").remove();
  ag.selectAll("text").attr("font-size",10).attr("fill","#222").attr("font-family",FONT);
  ag.selectAll("line").attr("stroke","#444");

  // value tags
  cfg.tags.forEach(t => {
    const yy = y(t[0]);
    g.append("path").attr("d",`M${X1},${yy} L${X1+6},${yy-6.5} H1148 V${yy+6.5} H${X1+6} Z`)
      .attr("fill","#fff").attr("stroke",t[2]).attr("stroke-width",1.2);
    g.append("text").attr("x",X1+7.5).attr("y",yy+3.8).attr("font-family",FONT).attr("font-size",10.5)
      .attr("font-weight",t[3] ? "bold" : "normal").attr("fill","#000").text(t[1]);
  });

  // daily ticks + month labels under panel
  const tg = g.append("g");
  tg.selectAll("line").data(sessions).join("line")
    .attr("x1",d => xd(d)).attr("x2",d => xd(d)).attr("y1",p.bottom+0.5).attr("y2",p.bottom+2.5)
    .attr("stroke","#9aa0aa").attr("stroke-width",0.8);
  const mStarts = sessions.filter((s, k) => k > 0 && s.slice(5,7) !== sessions[k-1].slice(5,7));
  tg.selectAll("text").data(mStarts).join("text")
    .attr("x",d => xd(d)).attr("y",p.bottom + 11.5).attr("text-anchor","middle")
    .attr("font-family",FONT).attr("font-size",11).attr("fill","#222")
    .attr("font-weight",d => d.slice(5,7) === "01" ? "bold" : "normal")
    .text(d => d.slice(5,7) === "01" ? d.slice(0,4) : monthNames[+d.slice(5,7) - 1]);
});

// note boxes
noteBoxes.forEach(b => {
  svg.append("rect").attr("x",b.x+2.5).attr("y",b.y+2.5).attr("width",b.w).attr("height",b.h).attr("fill","#000").attr("opacity",0.25);
  svg.append("rect").attr("x",b.x).attr("y",b.y).attr("width",b.w).attr("height",b.h).attr("fill","#fff").attr("stroke","#9a9a9a");
  b.lines.forEach((t, j) => {
    svg.append("text").attr("x",b.x+4).attr("y",b.y+b.base+j*15).attr("font-family",FONT)
      .attr("font-size",b.size).attr("font-weight","bold").attr("fill",b.color).text(t);
  });
});
</script></body></html>
